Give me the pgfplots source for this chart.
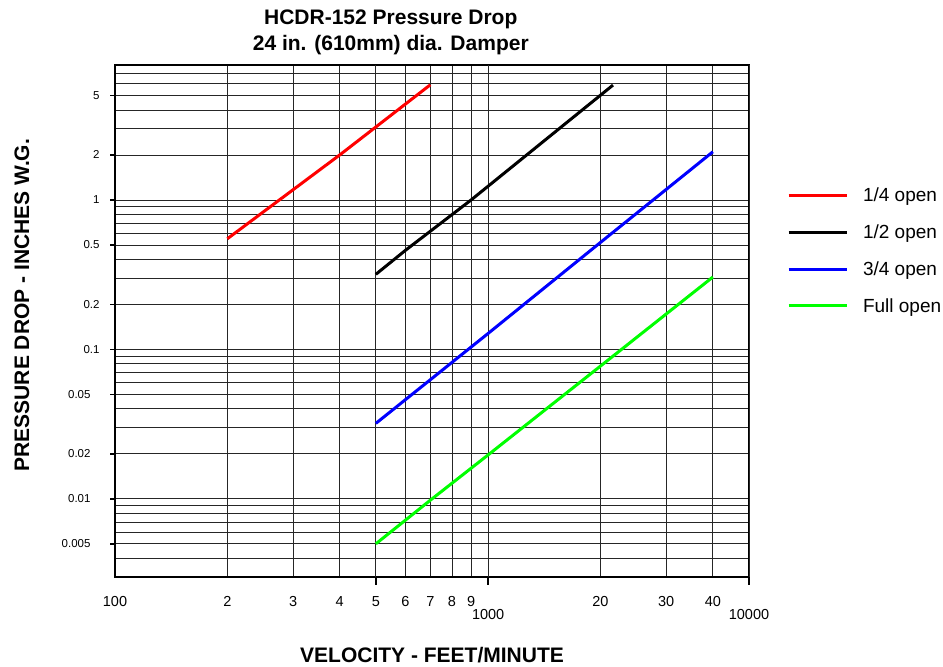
\documentclass[border=0pt]{standalone}
\usepackage{pgfplots}
\pgfplotsset{compat=1.18}
\usepackage{fontspec}
\setmainfont{Liberation Sans}

\begin{document}
\begin{tikzpicture}
\begin{loglogaxis}[
  scale only axis,
  width=634bp, height=512bp,
  xmin=100, xmax=5000,
  ymin=0.003, ymax=8,
  clip=false,
  axis line style={line width=2bp},
  xtick pos=bottom, ytick pos=left,
  tick align=outside,
  major tick length=5bp,
  minor tick length=0pt,
  tick style={black, line width=1.5bp},
  xtick={100,200,300,400,500,600,700,800,900,2000,3000,4000},
  xticklabels={100,2,3,4,5,6,7,8,9,20,30,40},
  xtick style={draw=none},
  extra x ticks={500,1000,5000},
  extra x tick labels={{},1000,10000},
  extra x tick style={major tick length=8bp, xtick style={draw=black}, grid=major,
    xticklabel style={yshift=-10bp}},
  ytick={0.005,0.01,0.02,0.05,0.1,0.2,0.5,1,2,5},
  yticklabels={0.005\kern9bp,0.01\kern9bp,0.02\kern9bp,0.05\kern9bp,0.1,0.2,0.5,1,2,5},
  minor ytick={0.003,0.004,0.006,0.007,0.008,0.009,0.03,0.04,0.06,0.07,0.08,0.09,0.3,0.4,0.6,0.7,0.8,0.9,3,4,6,7},
  xmajorgrids, ymajorgrids, yminorgrids,
  grid style={black!85, line width=0.9bp},
  minor grid style={black!85, line width=0.9bp},
  xticklabel style={font=\fontsize{14.5bp}{16bp}\selectfont, yshift=-11bp},
  yticklabel style={font=\fontsize{11.5bp}{13bp}\selectfont, xshift=-7bp},
  legend style={draw=none, fill=none, at={(1,1)}, anchor=north west,
    xshift=38bp, yshift=-123bp, inner sep=0pt, outer sep=0pt,
    font=\fontsize{19bp}{22bp}\selectfont, row sep=21.5bp, column sep=15bp,
    nodes={inner sep=0pt}},
  legend cell align=left,
  legend image code/.code={\draw[#1] (0bp,0bp) -- (58bp,0bp);},
  every axis plot/.append style={line width=3bp},
]
\addplot[red] coordinates {(200,0.55) (400,2.0) (700,5.9)};
\addlegendentry{1/4 open}
\addplot[black] coordinates {(500,0.318) (600,0.46) (900,1.0) (2160,5.87)};
\addlegendentry{1/2 open}
\addplot[blue] coordinates {(500,0.032) (1000,0.128) (2000,0.52) (4000,2.1)};
\addlegendentry{3/4 open}
\addplot[green] coordinates {(500,0.005) (700,0.0098) (1000,0.0197) (2000,0.0774) (4000,0.305)};
\addlegendentry{Full open}

\node[align=center, font=\bfseries\fontsize{21bp}{26bp}\selectfont]
  at ([yshift=32.5bp]axis description cs:0.435,1) {HCDR-152 Pressure Drop\\24 in. (610mm) dia. Damper};
\node[font=\bfseries\fontsize{21bp}{24bp}\selectfont]
  at ([yshift=-78bp]axis description cs:0.5,0) {VELOCITY - FEET/MINUTE};
\node[rotate=90, font=\bfseries\fontsize{21bp}{24bp}\selectfont]
  at ([xshift=-93bp]axis description cs:0,0.531) {PRESSURE DROP - INCHES W.G.};

\path (rel axis cs:0,0) ++(-115bp,-89bp) rectangle ++(943bp,666bp);
\end{loglogaxis}
\end{tikzpicture}
\end{document}
